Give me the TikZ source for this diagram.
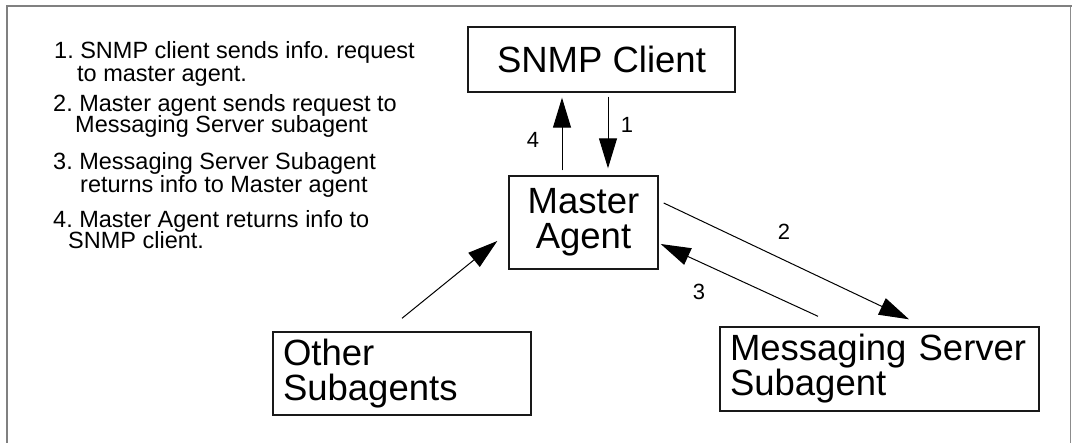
\documentclass[tikz,border=0pt]{standalone}
\usepackage{fontspec}
\setmainfont{Liberation Sans}
\usetikzlibrary{arrows.meta,calc}
\frenchspacing
\begin{document}
\begin{tikzpicture}[x=1pt,y=-1pt,
  box/.style={draw=black!90,line width=1.4pt,inner sep=0pt,font=\fontsize{36.5}{35}\selectfont},
  listtxt/.style={anchor=base west,inner sep=0pt,font=\fontsize{23.5}{27}\selectfont},
  numlbl/.style={inner sep=0pt,font=\fontsize{22}{26}\selectfont},
  arr/.style={line width=1pt,-{Triangle[length=30pt,width=18pt]}},
  frame/.style={draw=black!50,line width=2pt}]
\useasboundingbox (0,0) rectangle (1072,443);
% frame
\draw[frame] (7,443) -- (7,6) -- (1072,6);
\draw[draw=black!45,line width=1pt] (1070,7) -- (1070,443);
% boxes
\node[box,minimum width=267pt,minimum height=65pt] (client) at (601.5,59.5) {SNMP Client};
\node[box,minimum width=149pt,minimum height=93pt,align=center] (master) at (583.5,222.5) {Master\\Agent};
\node[box,minimum width=258pt,minimum height=83pt,text width=238pt,align=left] (other) at (402,373.5) {Other\\Subagents};
\node[box,minimum width=319pt,minimum height=84pt,text width=299pt,align=left] (msg) at (879.5,369) {Messaging Server\\Subagent};
% list
\node[listtxt] (l1) at (54,59) {1. SNMP client sends info. request};
\node[listtxt] (l2) at (77,82) {to master agent.};
\node[listtxt] (l3) at (53,112) {2. Master agent sends request to};
\node[listtxt] (l4) at (75,133) {Messaging Server subagent};
\node[listtxt] (l5) at (53,170) {3. Messaging Server Subagent};
\node[listtxt] (l6) at (80,193) {returns info to Master agent};
\node[listtxt] (l7) at (53,228) {4. Master Agent returns info to};
\node[listtxt] (l8) at (68,249) {SNMP client.};
% arrows
\draw[arr] ([shift={(-21.5,-5)}]master.north) -- ([shift={(-39.5,5)}]client.south);
\draw[arr] ([shift={(6.5,4)}]client.south) -- ([shift={(24.5,-7)}]master.north);
\draw[arr] ([shift={(5,-19.5)}]master.east) -- ([shift={(29.5,-7)}]msg.north);
\draw[arr] ([shift={(-61.5,-10)}]msg.north) -- ([shift={(2,21.5)}]master.east);
\draw[arr] ([shift={(0,-13)}]other.north) -- ([shift={(-11,18.5)}]master.west);
% labels
\node[numlbl] (n1) at (627,125) {1};
\node[numlbl] (n4) at (533,140) {4};
\node[numlbl] (n2) at (784,232) {2};
\node[numlbl] (n3) at (699,292) {3};
\end{tikzpicture}
\end{document}
